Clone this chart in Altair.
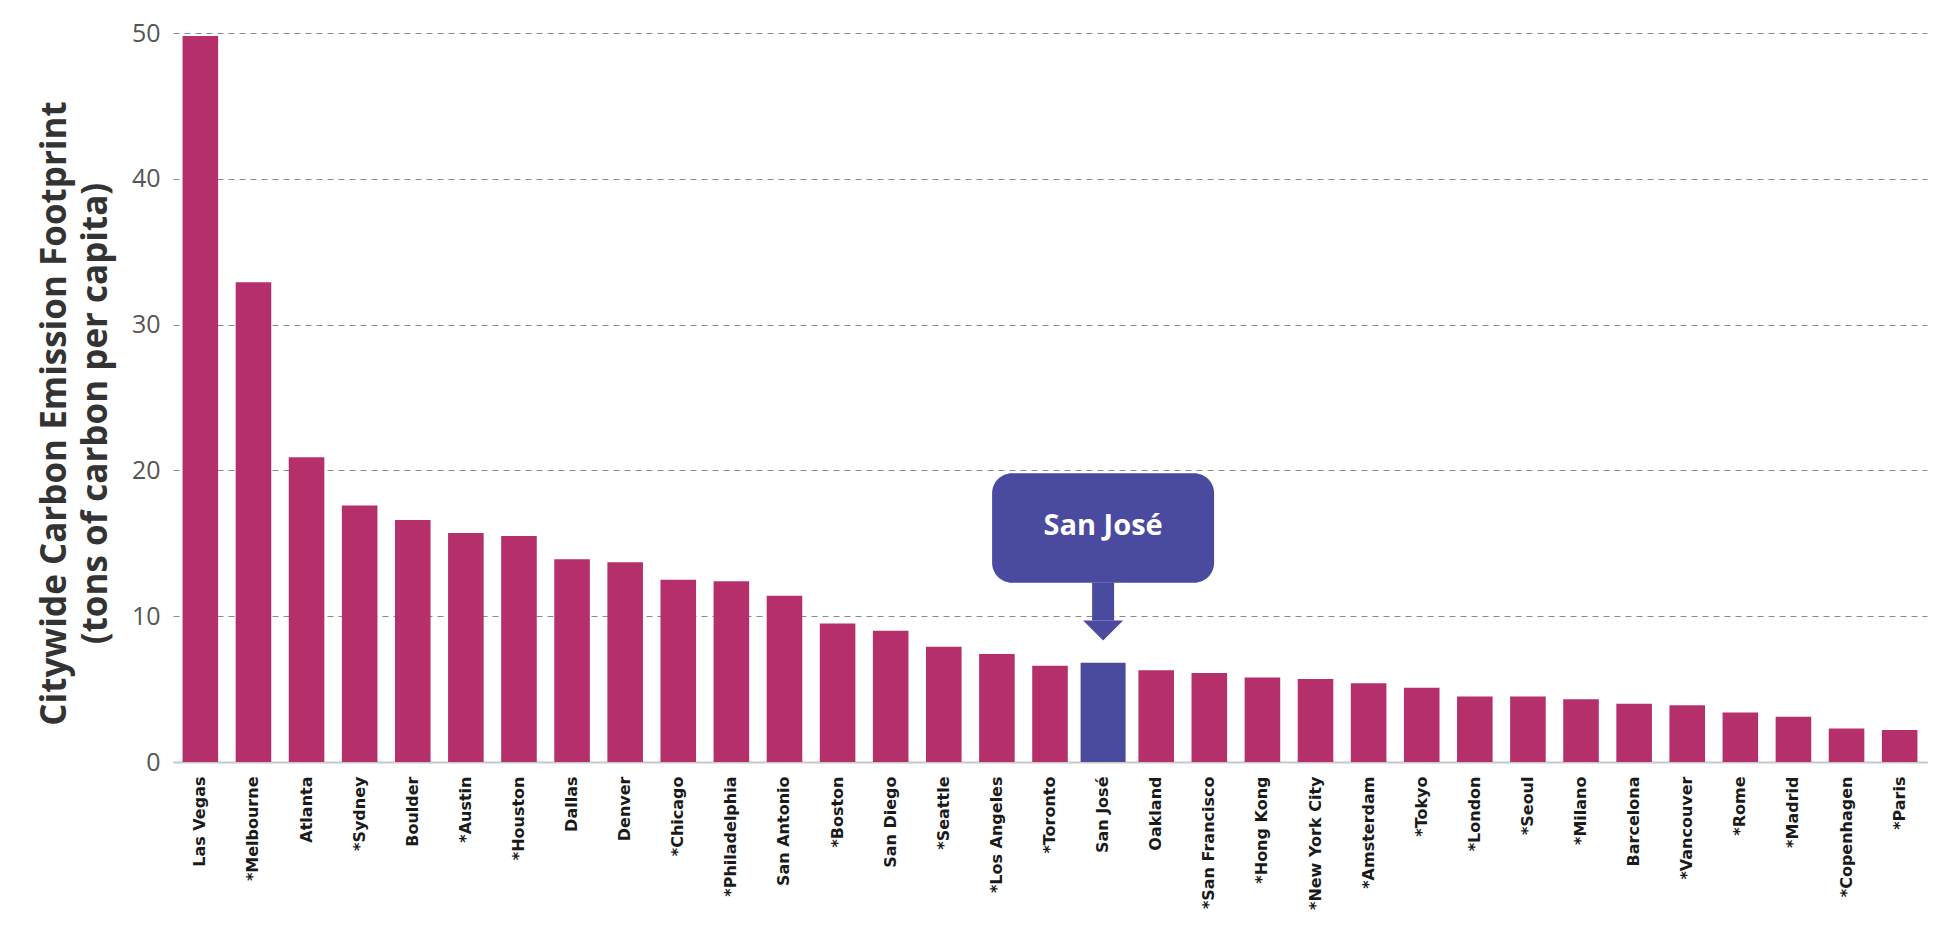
import altair as alt
import pandas as pd

cities = [
    "Las Vegas", "*Melbourne", "Atlanta", "*Sydney", "Boulder", "*Austin",
    "*Houston", "Dallas", "Denver", "*Chicago", "*Philadelphia", "San Antonio",
    "*Boston", "San Diego", "*Seattle", "*Los Angeles", "*Toronto", "San José",
    "Oakland", "*San Francisco", "*Hong Kong", "*New York City", "*Amsterdam",
    "*Tokyo", "*London", "*Seoul", "*Milano", "Barcelona", "*Vancouver",
    "*Rome", "*Madrid", "*Copenhagen", "*Paris",
]
values = [
    49.8, 32.9, 20.9, 17.6, 16.6, 15.7,
    15.5, 13.9, 13.7, 12.5, 12.4, 11.4,
    9.5, 9.0, 7.9, 7.4, 6.6, 6.8,
    6.3, 6.1, 5.8, 5.7, 5.4,
    5.1, 4.5, 4.5, 4.3, 4.0, 3.9,
    3.4, 3.1, 2.3, 2.2,
]
highlight = "San José"
y_ticks = [0, 10, 20, 30, 40, 50]

# callout annotation (data units on the y scale)
box_top = 19.8
box_bottom = 12.3
stem_bottom = 9.7
label_y = 16.2
callout_label = "San José"

MAGENTA = "#B5306B"
BLUE = "#4A4A9F"

df = pd.DataFrame({"city": cities, "value": values})
call = pd.DataFrame({
    "city": [highlight], "top": [box_top], "bottom": [box_bottom],
    "stem": [stem_bottom], "ly": [label_y], "label": [callout_label],
})

x_enc = alt.X(
    "city:N", sort=cities,
    scale=alt.Scale(paddingInner=0.33, paddingOuter=0.18),
    axis=alt.Axis(
        title=None, labelAngle=270, labelFontSize=16, labelFont="DejaVu Sans",
        labelFontWeight="bold", labelColor="#1a1a1a", labelPadding=14,
        ticks=False, domainColor="#c8c8c8", domainWidth=2, labelLimit=300,
    ),
)
y_scale = alt.Scale(domain=[0, 50], nice=False)
y_enc = alt.Y(
    "value:Q", scale=y_scale,
    axis=alt.Axis(
        values=y_ticks, grid=True, gridDash=[6, 5], gridColor="#8a8a8a",
        gridWidth=1.2, domain=False, ticks=False, labelFontSize=25,
        labelFont="Open Sans", labelColor="#555", labelPadding=13,
        title=["Citywide Carbon Emission Footprint", "(tons of carbon per capita)"],
        titleFontSize=35, titleFont="Open Sans", titleFontWeight="bold",
        titleColor="#333", titleX=-119, titleY=380, titleAngle=270,
        titleBaseline="middle", titleAlign="center", titleLineHeight=41,
    ),
)

bars = alt.Chart(df).transform_filter(
    f"datum.city != '{highlight}'"
).mark_bar(color=MAGENTA).encode(x=x_enc, y=y_enc)

hbar = alt.Chart(df).transform_filter(
    f"datum.city == '{highlight}'"
).mark_bar(color=BLUE, width=45).encode(x=alt.X("city:N", sort=cities), y=alt.Y("value:Q", scale=y_scale))

box = alt.Chart(call).mark_bar(color=BLUE, width=222, cornerRadius=20).encode(
    x=alt.X("city:N", sort=cities), y=alt.Y("top:Q", scale=y_scale), y2="bottom:Q"
)
stem = alt.Chart(call).mark_bar(color=BLUE, width=22).encode(
    x=alt.X("city:N", sort=cities), y=alt.Y("bottom:Q", scale=y_scale), y2="stem:Q"
)
head = alt.Chart(call).mark_point(
    shape="M -1 0 L 1 0 L 0 1 Z", size=1600, filled=True, color=BLUE, opacity=1
).encode(x=alt.X("city:N", sort=cities), y=alt.Y("stem:Q", scale=y_scale))
text = alt.Chart(call).mark_text(
    color="white", fontSize=29, font="Open Sans", fontWeight="bold",
    baseline="middle", align="center",
).encode(x=alt.X("city:N", sort=cities), y=alt.Y("ly:Q", scale=y_scale), text="label:N")

chart = alt.layer(bars, hbar, box, stem, head, text).properties(
    width=1754, height=729,
    autosize=alt.AutoSizeParams(type="none"),
    padding={"left": 173, "top": 33, "right": 22, "bottom": 183},
    background="white",
).configure_view(stroke=None)

chart.save("out.html", embed_options={"renderer": "svg", "actions": False})
